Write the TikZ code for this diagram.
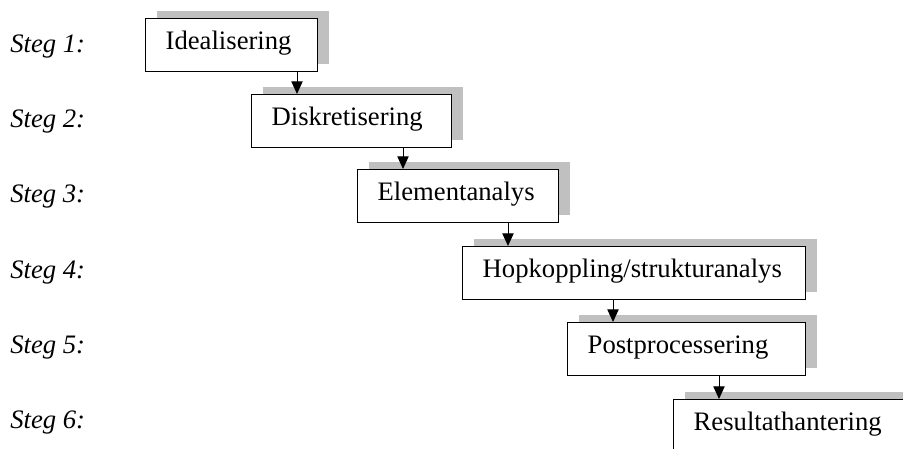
\documentclass[tikz,border=0pt]{standalone}
\usepackage{fontspec}
\setmainfont{Liberation Serif}
\usetikzlibrary{arrows.meta,shadows}
\definecolor{shadowgray}{HTML}{C0C0C0}
\begin{document}
\begin{tikzpicture}[x=0.75pt,y=-0.75pt,
  stepbox/.style={draw=black, line width=1pt, fill=white, rectangle, anchor=north west,
    inner xsep=15pt, inner ysep=0pt, minimum height=39.75pt, align=left,
    text height=0.66em, text depth=0pt, font=\fontsize{20}{24}\selectfont,
    drop shadow={shadow xshift=8.6pt, shadow yshift=6pt, fill=shadowgray, opacity=1, draw=none}},
  steglabel/.style={anchor=base west, inner sep=0pt, font=\fontsize{20}{24}\selectfont\itshape},
  arr/.style={line width=0.75pt, -{Triangle[length=9.5pt,width=8.5pt]}}]
\useasboundingbox (0,0) rectangle (903,449);
\clip (0,0) rectangle (903,449);
\node[steglabel] (s1) at (10,53) {Steg 1:};
\node[steglabel] (s2) at (10,128) {Steg 2:};
\node[steglabel] (s3) at (10,203) {Steg 3:};
\node[steglabel] (s4) at (10,278) {Steg 4:};
\node[steglabel] (s5) at (10,353) {Steg 5:};
\node[steglabel] (s6) at (10,428) {Steg 6:};
\node[stepbox, text width=99pt] (b1) at (145,18) {Idealisering};
\node[stepbox, text width=120pt] (b2) at (251,94) {Diskretisering};
\node[stepbox, text width=120.75pt] (b3) at (357,169) {Elementanalys};
\node[stepbox, text width=227.25pt] (b4) at (462,246) {Hopkoppling/strukturanalys};
\node[stepbox, text width=148.5pt] (b5) at (567,322) {Postprocessering};
\node[stepbox, text width=144.75pt] (b6) at (673,399) {Resultathantering};
\draw[arr] ([xshift=34.5pt]b2.north west |- b1.south) -- ([xshift=34.5pt]b2.north west);
\draw[arr] ([xshift=34.5pt]b3.north west |- b2.south) -- ([xshift=34.5pt]b3.north west);
\draw[arr] ([xshift=34.5pt]b4.north west |- b3.south) -- ([xshift=34.5pt]b4.north west);
\draw[arr] ([xshift=34.5pt]b5.north west |- b4.south) -- ([xshift=34.5pt]b5.north west);
\draw[arr] ([xshift=34.5pt]b6.north west |- b5.south) -- ([xshift=34.5pt]b6.north west);
\end{tikzpicture}
\end{document}
